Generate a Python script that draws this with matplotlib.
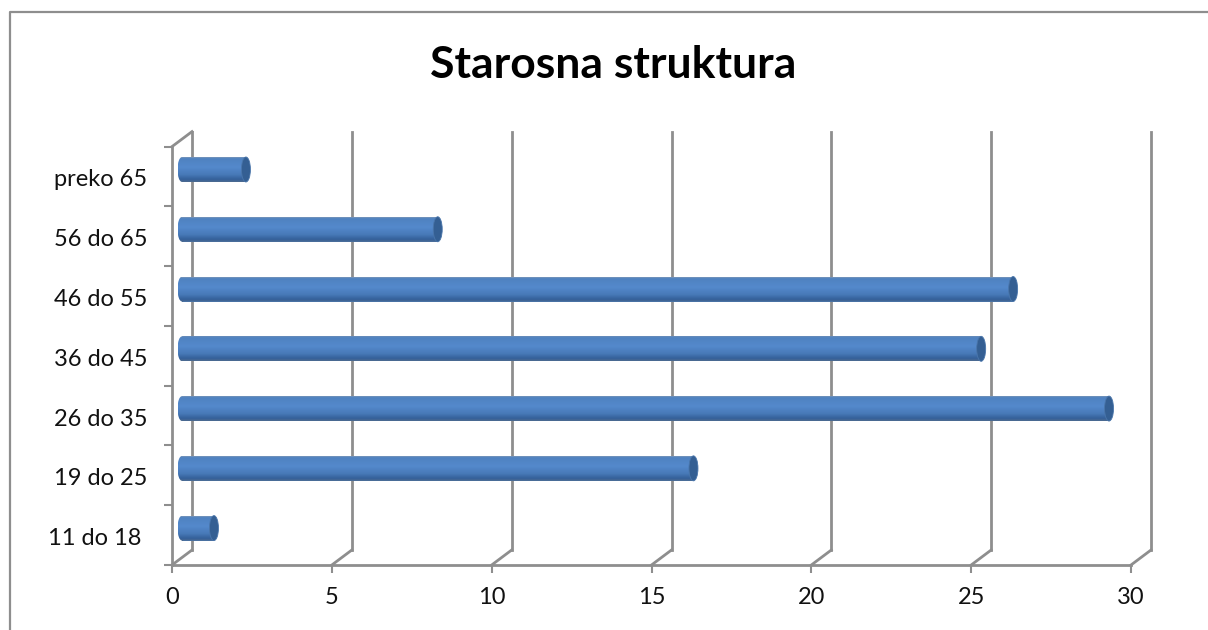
import numpy as np
import matplotlib
matplotlib.use("Agg")
import matplotlib.pyplot as plt
from matplotlib import transforms
from matplotlib.path import Path
from matplotlib.patches import Ellipse
from matplotlib.lines import Line2D
from matplotlib.colors import LinearSegmentedColormap

categories = ["11 do 18 ", "19 do 25", "26 do 35", "36 do 45", "46 do 55", "56 do 65", "preko 65"]
values = [1, 16, 29, 25, 26, 8, 2]
xticks = [0, 5, 10, 15, 20, 25, 30]
title = "Starosna struktura"

W, H = 1208, 630
GRID = "#8e8e8e"
FONT = ["Lato", "DejaVu Sans"]

fig = plt.figure(figsize=(W / 100, H / 100), dpi=100, facecolor="white")
ax = fig.add_axes([172 / W, 1 - 565 / H, (1131 - 172) / W, (565 - 146.6) / H])
ax.set_xlim(0, 30)
ax.set_ylim(-0.5, 6.5)
ax.set_facecolor("none")

for s in ("top", "right"):
    ax.spines[s].set_visible(False)
for s in ("left", "bottom"):
    ax.spines[s].set_color(GRID)
    ax.spines[s].set_linewidth(2.0)

ax.set_xticks(xticks)
ax.set_yticks(range(len(categories)))
ax.set_yticklabels(categories, family=FONT, fontsize=17, color="#111111")
ax.set_yticks(np.arange(-0.5, 7.0, 1), minor=True)
ax.tick_params(axis="y", which="major", length=0, pad=18)
ax.tick_params(axis="y", which="minor", length=6, width=1.5, color=GRID)
ax.tick_params(axis="x", which="major", length=6, width=1.5, color=GRID, pad=10)
for lab in ax.get_xticklabels():
    lab.set_family(FONT)
    lab.set_fontsize(17)
    lab.set_color("#111111")
for lab in ax.get_yticklabels():
    lab.set_y(lab.get_position()[1])
    lab.set_transform(lab.get_transform() + transforms.ScaledTranslation(0, -1.5 / 100, fig.dpi_scale_trans))

# back wall / floor gridlines, 3-D depth offset in pixels
back = transforms.offset_copy(ax.transData, fig, x=20, y=15, units="dots")
for v in xticks:
    ax.add_line(Line2D([v, v], [-0.5, 6.5], color=GRID, lw=2.0, transform=back,
                       clip_on=False, zorder=1, solid_joinstyle="miter"))
    pts = ax.transData.transform([(v, -0.5)])[0]
    ax.add_line(Line2D([pts[0], pts[0] + 20], [pts[1], pts[1] + 15], color=GRID, lw=2.0,
                       transform=transforms.IdentityTransform(), clip_on=False, zorder=1))
# top-left slanted edge
pts = ax.transData.transform([(0, 6.5)])[0]
ax.add_line(Line2D([pts[0], pts[0] + 20], [pts[1], pts[1] + 15], color=GRID, lw=2.0,
                   transform=transforms.IdentityTransform(), clip_on=False, zorder=1))

# cylinders
bar_trans = transforms.offset_copy(ax.transData, fig, x=10, y=7, units="dots")
cmap = LinearSegmentedColormap.from_list(
    "cyl",
    [(0.0, "#7a97ba"), (0.05, "#4f82c0"), (0.4, "#5489cc"), (0.7, "#487ab8"),
     (0.9, "#34609a"), (1.0, "#4d6b90")],
)
grad = np.linspace(0, 1, 64).reshape(-1, 1)
height = 25 / 59.8
rx_data = 4.5 / (959 / 30)
ry_data = height / 2
for y, v in zip(range(len(values)), values):
    ax.barh(y, v, height=height, color="#4a7cba", linewidth=0, transform=bar_trans, zorder=3)
    rect = Path.unit_rectangle().transformed(
        transforms.Affine2D().scale(v, height).translate(0, y - height / 2))
    left = Path.unit_circle().transformed(
        transforms.Affine2D().scale(rx_data, ry_data).translate(0, y))
    clip = Path.make_compound_path(rect, left)
    im = ax.imshow(grad, cmap=cmap, aspect="auto", interpolation="bilinear",
                   extent=(-rx_data, v, y - height / 2, y + height / 2),
                   origin="upper", transform=bar_trans, zorder=4)
    im.set_clip_path(clip, transform=bar_trans)
    ax.add_patch(Ellipse((v, y), 2 * rx_data, height, facecolor="#345f93",
                         edgecolor="#4a76ab", linewidth=0.6,
                         transform=bar_trans, zorder=5, clip_on=False))
ax.set_xlim(0, 30)
ax.set_ylim(-0.5, 6.5)

# chart frame (top and left only visible in the crop)
fig.add_artist(Line2D([9.5 / W, 9.5 / W, 1], [0, 1 - 11.5 / H, 1 - 11.5 / H], color=GRID, lw=1.6,
                      transform=fig.transFigure))

fig.text(613.5 / W, 1 - 65 / H, title, ha="center", va="center", family=FONT,
         fontsize=32, fontweight="bold", color="black")

fig.savefig("out.png", dpi=100)
